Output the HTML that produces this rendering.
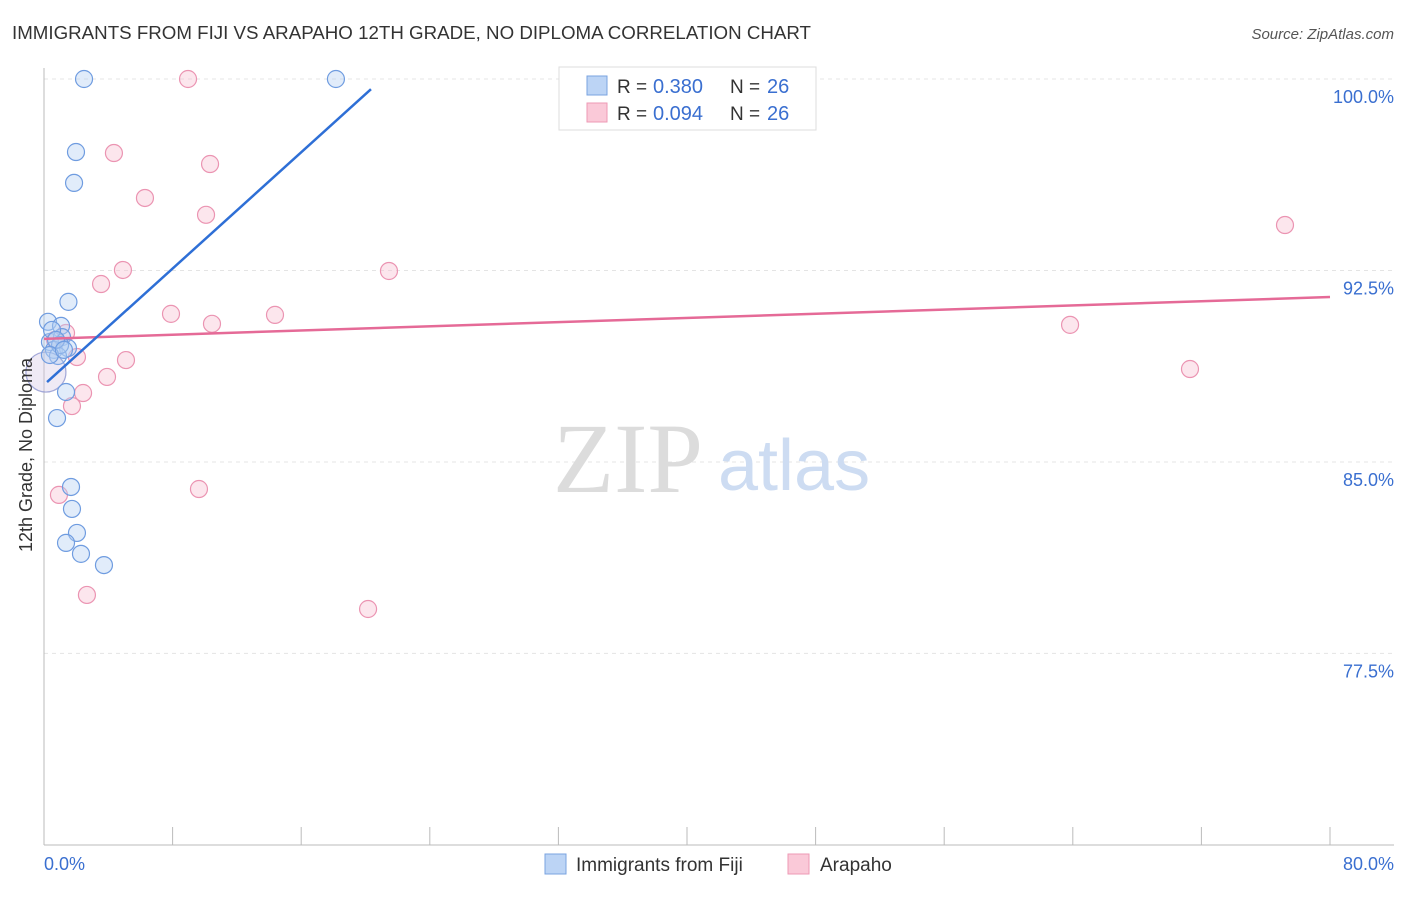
<!DOCTYPE html>
<html><head><meta charset="utf-8"><style>
body{margin:0;background:#fff;font-family:"Liberation Sans",sans-serif}
</style></head><body>
<svg width="1406" height="892" xmlns="http://www.w3.org/2000/svg" font-family="Liberation Sans, sans-serif">
<text x="12" y="39" font-size="18" fill="#333" textLength="799" lengthAdjust="spacingAndGlyphs">IMMIGRANTS FROM FIJI VS ARAPAHO 12TH GRADE, NO DIPLOMA CORRELATION CHART</text>
<text x="1394" y="39" font-size="15" fill="#555" font-style="italic" text-anchor="end">Source: ZipAtlas.com</text>
<g id="grid"></g>
<text x="553" y="492" font-size="100" fill="#dcdcdc" font-family="Liberation Serif, serif">ZIP</text>
<text x="718" y="490" font-size="72" fill="#cddcf2">atlas</text>
<g id="marks"></g>
<text x="32" y="455" font-size="18" fill="#333" transform="rotate(-90 32 455)" text-anchor="middle">12th Grade, No Diploma</text>
<text x="44" y="870" font-size="18" fill="#3a6fd0">0.0%</text>
<text x="1394" y="870" font-size="18" fill="#3a6fd0" text-anchor="end">80.0%</text>
<g>
<rect x="559" y="67" width="257" height="63" fill="#fff" stroke="#ddd"/>
<rect x="587" y="76" width="20" height="19" fill="#bcd4f5" stroke="#7aa3e0"/>
<rect x="587" y="103" width="20" height="19" fill="#fac9d8" stroke="#ee99b5"/>
<text x="617" y="93" font-size="19" fill="#333">R =</text>
<text x="653" y="93" font-size="20" fill="#3a6fd0">0.380</text>
<text x="730" y="93" font-size="19" fill="#333">N =</text>
<text x="767" y="93" font-size="20" fill="#3a6fd0">26</text>
<text x="617" y="120" font-size="19" fill="#333">R =</text>
<text x="653" y="120" font-size="20" fill="#3a6fd0">0.094</text>
<text x="730" y="120" font-size="19" fill="#333">N =</text>
<text x="767" y="120" font-size="20" fill="#3a6fd0">26</text>
</g>
<g>
<rect x="545" y="854" width="21" height="20" fill="#bcd4f5" stroke="#7aa3e0"/>
<text x="576" y="871" font-size="19" fill="#333">Immigrants from Fiji</text>
<rect x="788" y="854" width="21" height="20" fill="#fac9d8" stroke="#ee99b5"/>
<text x="820" y="871" font-size="19" fill="#333">Arapaho</text>
</g>
</svg>
<script>
const yTicks=[100,92.5,85,77.5];
const yTickLabels=["100.0%","92.5%","85.0%","77.5%"];
const xTicks=[0,8,16,24,32,40,48,56,64,72,80];
const fijiX=[2.49,18.16,1.99,1.87,1.52,0.25,1.06,0.37,1.12,0.62,1.49,0.87,0.12,1.37,0.81,1.68,1.74,2.05,1.37,2.30,3.73,0.5,1.0,0.75,0.37,1.24];
const fijiY=[100,100,97.14,95.93,91.27,90.49,90.33,89.70,89.89,89.39,89.46,89.15,88.52,87.74,86.72,84.02,83.16,82.22,81.83,81.40,80.96,90.17,89.58,89.78,89.19,89.39];
const arapX=[8.96,4.35,10.33,6.28,10.08,77.2,4.91,21.46,3.55,7.90,10.45,14.37,63.83,1.37,2.05,5.10,71.29,3.92,2.43,1.74,0.93,9.64,2.67,20.16,0.12,0.68];
const arapY=[100,97.10,96.67,95.34,94.68,94.28,92.52,92.48,91.97,90.80,90.41,90.76,90.37,90.05,89.11,88.99,88.64,88.33,87.70,87.19,83.71,83.94,79.79,79.24,88.52,89.78];
const fijiTrendX=[0.19,20.34], fijiTrendY=[88.13,99.6];
const arapTrendX=[0,80], arapTrendY=[89.82,91.46];
const NS="http://www.w3.org/2000/svg";
const sx=v=>44+v/80*1286, sy=v=>79+(100-v)*25.53;
function mk(t,a,p){const e=document.createElementNS(NS,t);for(const k in a)e.setAttribute(k,a[k]);p.appendChild(e);return e;}
const g=document.getElementById('grid'), m=document.getElementById('marks');
yTicks.forEach((v,i)=>{
 const l=mk('line',{x1:44,x2:1394,y1:sy(v),y2:sy(v),stroke:'#e4e4e4','stroke-dasharray':'4,4'},g);
 
 
 const t=mk('text',{x:1394,y:sy(v)+24,'font-size':18,fill:'#3a6fd0','text-anchor':'end'},g);
 t.textContent=yTickLabels[i];
 
 
});
const ax=mk('line',{x1:44,x2:44,y1:68,y2:845,stroke:'#bbb'},g);


const bx=mk('line',{x1:44,x2:1394,y1:845,y2:845,stroke:'#bbb'},g);


xTicks.forEach(v=>{
 const t=mk('line',{x1:sx(v),x2:sx(v),y1:827,y2:845,stroke:'#bbb'},g);
 
 
});
function dots(X,Y,fill,stroke,name){
 X.forEach((x,i)=>{
  const big=(x<0.2&&Math.abs(Y[i]-88.52)<0.1);
  const c=mk('circle',{cx:sx(x),cy:sy(Y[i]),r:big?20:8.5,fill:fill,'fill-opacity':big?0.2:0.4,stroke:stroke,'stroke-width':1.2,'stroke-opacity':big?0.6:1},m);
  
  
 });
}
dots(arapX,arapY,'#f8c0d2','#eb94b2','arapaho-point');
dots(fijiX,fijiY,'#b5cff3','#6f9ce0','fiji-point');
const l1=mk('line',{x1:sx(arapTrendX[0]),y1:sy(arapTrendY[0]),x2:sx(arapTrendX[1]),y2:sy(arapTrendY[1]),stroke:'#e56a97','stroke-width':2.5},m);


const l2=mk('line',{x1:sx(fijiTrendX[0]),y1:sy(fijiTrendY[0]),x2:sx(fijiTrendX[1]),y2:sy(fijiTrendY[1]),stroke:'#2e6fd6','stroke-width':2.5},m);


</script>
</body></html>
